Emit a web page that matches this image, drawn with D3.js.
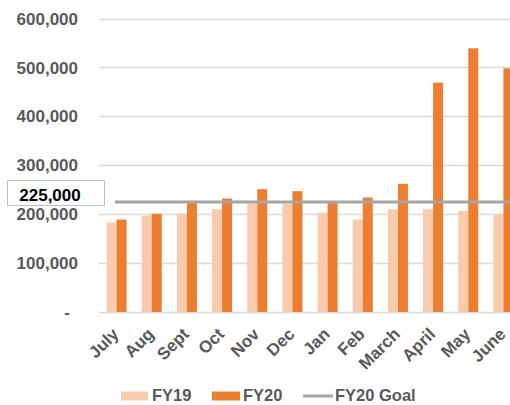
<!DOCTYPE html>
<html><head><meta charset="utf-8">
<script src="https://cdn.jsdelivr.net/npm/d3@7"></script>
<style>body{margin:0;background:#fff}svg{display:block}</style>
</head><body>
<svg id="c" width="510" height="405"></svg>
<script>
const months = ["July","Aug","Sept","Oct","Nov","Dec","Jan","Feb","March","April","May","June"];
const fy19 = [183000,197000,201000,210000,222000,222000,203000,189000,210000,210000,207000,200000];
const fy20 = [189000,201000,223000,232000,251000,247000,223000,234000,262000,469000,539000,498000];
const goal = 225000;
const yTicks = [0,100000,200000,300000,400000,500000,600000];
const seriesNames = ["FY19","FY20","FY20 Goal"];

const colors = {fy19:"#f8cbad", fy20:"#ed7d31", goal:"#a5a5a5", grid:"#d9d9d9", text:"#595959"};
const svg = d3.select("#c");
const W = 510;
const x = d3.scaleBand().domain(months).range([99, 521]).paddingInner(0.431).paddingOuter(0.2155);
const y = d3.scaleLinear().domain([0,600000]).range([312, 18.5]);
const font = "'Liberation Sans', Arial, sans-serif";

// gridlines
svg.append("g").selectAll("line").data(yTicks).join("line")
  .attr("x1", 99).attr("x2", W)
  .attr("y1", d=>Math.round(y(d))+0.5).attr("y2", d=>Math.round(y(d))+0.5)
  .attr("stroke", colors.grid).attr("stroke-width", 1.3);

// y labels
svg.append("g").selectAll("text").data(yTicks).join("text")
  .attr("x", d=> d===0 ? 70 : 78).attr("y", d=>y(d))
  .attr("dy","0.36em").attr("text-anchor","end")
  .attr("font-family", font).attr("font-weight","bold").attr("font-size","17px")
  .attr("fill", colors.text)
  .text(d=> d===0 ? "-" : d3.format(",")(d));

const bw = x.bandwidth()/2;
svg.append("g").selectAll("rect").data(months).join("rect")
  .attr("x", d=>x(d)).attr("width", bw)
  .attr("y", (d,i)=>y(fy19[i])).attr("height",(d,i)=>y(0)-y(fy19[i]))
  .attr("fill", colors.fy19);
svg.append("g").selectAll("rect").data(months).join("rect")
  .attr("x", d=>x(d)+bw).attr("width", bw)
  .attr("y", (d,i)=>y(fy20[i])).attr("height",(d,i)=>y(0)-y(fy20[i]))
  .attr("fill", colors.fy20);

// goal line
svg.append("line").attr("x1", 115).attr("x2", W)
  .attr("y1", y(goal)).attr("y2", y(goal))
  .attr("stroke", colors.goal).attr("stroke-width", 3);

// goal label box
svg.append("rect").attr("x", 7.5).attr("y", 180.5).attr("width", 97).attr("height", 25)
  .attr("fill","#fff").attr("stroke","#bfbfbf").attr("stroke-width",1);
svg.append("text").attr("x", 50).attr("y", 200.5)
  .attr("text-anchor","middle").attr("font-family", font).attr("font-weight","bold")
  .attr("font-size","17px").attr("fill","#000").text(d3.format(",")(goal));

// x labels
svg.append("g").selectAll("text").data(months).join("text")
  .attr("transform", d=>`translate(${x(d)+x.bandwidth()/2-1},${331}) rotate(-45)`)
  .attr("text-anchor","end").attr("dy","0.35em")
  .attr("font-family", font).attr("font-weight","bold").attr("font-size","17px")
  .attr("fill", colors.text).text(d=>d);

// legend
const lg = svg.append("g");
const ly = 396;
lg.append("rect").attr("x",121).attr("y",ly-4.5).attr("width",27).attr("height",9).attr("fill",colors.fy19);
lg.append("text").attr("x",152).attr("y",401.2).text(seriesNames[0]);
lg.append("rect").attr("x",212).attr("y",ly-4.5).attr("width",28).attr("height",9).attr("fill",colors.fy20);
lg.append("text").attr("x",243).attr("y",401.2).text(seriesNames[1]);
lg.append("line").attr("x1",303).attr("x2",333).attr("y1",ly).attr("y2",ly).attr("stroke",colors.goal).attr("stroke-width",3);
lg.append("text").attr("x",335).attr("y",401.2).text(seriesNames[2]);
lg.selectAll("text").attr("font-family", font).attr("font-weight","bold").attr("font-size","16.5px").attr("fill",colors.text);
</script>
</body></html>
